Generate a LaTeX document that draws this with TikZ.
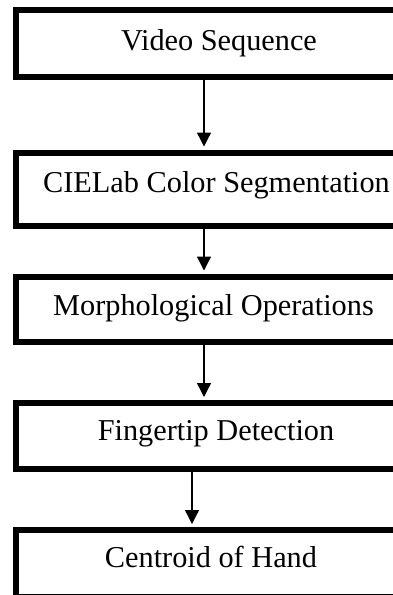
\documentclass[tikz,border=0pt]{standalone}
\usepackage{fontspec}
\setmainfont{Liberation Serif}
\usetikzlibrary{arrows.meta}
\begin{document}
\begin{tikzpicture}[x=1pt,y=-1pt,
 box/.style={draw=black,line width=6pt,fill=white,minimum width=404pt,inner sep=0pt,rectangle},
 lbl/.style={anchor=base,inner sep=0pt,font=\fontsize{30.3}{36}\selectfont},
 arr/.style={line width=1.3pt,shorten >=3pt,-{Triangle[length=14pt,width=14pt]}}]
\useasboundingbox (0,0) rectangle (393,595);
\clip (0,0) rectangle (393,595);
\fill[white] (0,0) rectangle (393,595);
\node[box,minimum height=67pt] (b1) at (218,43.5) {};
\node[box,minimum height=73.5pt] (b2) at (218,189.25) {};
\node[box,minimum height=65pt] (b3) at (218,309) {};
\node[box,minimum height=66pt] (b4) at (218,436) {};
\node[box,minimum height=67pt] (b5) at (218,563.5) {};
\node[lbl] (t1) at (219,50) {Video Sequence};
\node[lbl] (t2) at (216.5,192) {CIELab Color Segmentation};
\node[lbl] (t3) at (213.5,315) {Morphological Operations};
\node[lbl] (t4) at (216,440) {Fingertip Detection};
\node[lbl] (t5) at (211,567) {Centroid of Hand};
\coordinate (ax) at (204,0);
\coordinate (bx) at (192,0);
\draw[arr] (b1.south -| ax) -- (b2.north -| ax);
\draw[arr] (b2.south -| ax) -- (b3.north -| ax);
\draw[arr] (b3.south -| ax) -- (b4.north -| ax);
\draw[arr] (b4.south -| bx) -- (b5.north -| bx);
\end{tikzpicture}
\end{document}
